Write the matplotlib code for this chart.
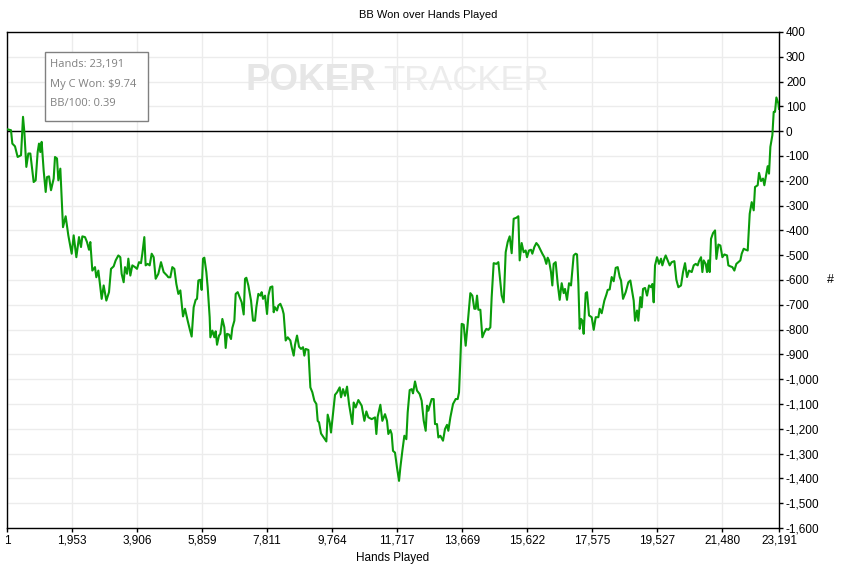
import matplotlib
matplotlib.use("Agg")
import matplotlib.pyplot as plt
from matplotlib.ticker import FuncFormatter

# Номер раздачи и выигрыш в BB
hands = [
    1, 121, 161, 241, 321, 422, 482, 522, 582, 642, 702, 802, 862, 922, 962,
    1002, 1042, 1102, 1163, 1203, 1263, 1323, 1403, 1443, 1503, 1543, 1603,
    1683, 1763, 1843, 1944, 2004, 2084, 2164, 2224, 2264, 2344, 2404, 2464,
    2504, 2564, 2644, 2684, 2745, 2845, 2905, 2985, 3065, 3125, 3205, 3265,
    3345, 3405, 3445, 3505, 3546, 3606, 3646, 3706, 3766, 3846, 3906, 3966,
    4026, 4066, 4126, 4166, 4227, 4287, 4347, 4407, 4467, 4547, 4627, 4707,
    4807, 4847, 4907, 4967, 5028, 5088, 5148, 5208, 5288, 5348, 5428, 5488,
    5548, 5608, 5668, 5709, 5749, 5809, 5849, 5889, 5929, 5989, 6029, 6089,
    6110, 6170, 6230, 6270, 6310, 6370, 6410, 6470, 6530, 6570, 6610, 6670,
    6730, 6770, 6831, 6871, 6931, 6991, 7051, 7111, 7151, 7191, 7251, 7331,
    7391, 7451, 7491, 7551, 7611, 7651, 7691, 7752, 7812, 7852, 7912, 7972,
    8012, 8052, 8112, 8152, 8212, 8272, 8312, 8372, 8433, 8513, 8553, 8613,
    8653, 8713, 8773, 8833, 8893, 8933, 8973, 9054, 9114, 9174, 9234, 9294,
    9334, 9374, 9434, 9514, 9594, 9634, 9694, 9734, 9794, 9854, 9915, 9995,
    10035, 10095, 10155, 10215, 10275, 10375, 10415, 10475, 10555, 10656,
    10736, 10796, 10856, 10956, 11056, 11096, 11136, 11216, 11276, 11356,
    11416, 11456, 11516, 11556, 11596, 11656, 11716, 11777, 11817, 11877,
    11937, 11997, 12037, 12097, 12157, 12197, 12257, 12317, 12397, 12457,
    12518, 12578, 12618, 12658, 12698, 12758, 12818, 12858, 12918, 12958,
    13018, 13098, 13158, 13218, 13258, 13319, 13399, 13479, 13539, 13579,
    13619, 13659, 13719, 13779, 13839, 13919, 13979, 14039, 14079, 14120,
    14160, 14220, 14280, 14340, 14400, 14460, 14520, 14560, 14620, 14700,
    14761, 14821, 14861, 14921, 14981, 15041, 15101, 15161, 15221, 15301,
    15361, 15401, 15461, 15521, 15581, 15621, 15681, 15741, 15782, 15842,
    15902, 15962, 16022, 16082, 16142, 16202, 16242, 16282, 16342, 16382,
    16422, 16482, 16543, 16603, 16663, 16723, 16763, 16823, 16883, 16943,
    17023, 17083, 17124, 17164, 17204, 17244, 17284, 17324, 17384, 17424,
    17485, 17565, 17625, 17685, 17765, 17805, 17865, 17945, 18005, 18045,
    18105, 18165, 18225, 18286, 18346, 18406, 18446, 18506, 18586, 18666,
    18726, 18826, 18866, 18926, 18966, 19026, 19066, 19107, 19167, 19227,
    19287, 19347, 19387, 19427, 19467, 19527, 19587, 19647, 19687, 19747,
    19787, 19847, 19908, 19968, 20048, 20108, 20168, 20248, 20308, 20368,
    20428, 20489, 20569, 20629, 20689, 20749, 20789, 20849, 20889, 20929,
    20989, 21029, 21069, 21109, 21149, 21209, 21270, 21310, 21370, 21430,
    21490, 21550, 21630, 21670, 21730, 21790, 21850, 21910, 21970, 22030,
    22071, 22131, 22191, 22251, 22311, 22371, 22431, 22471, 22551, 22591,
    22651, 22711, 22751, 22811, 22851, 22891, 22932, 22992, 23032, 23072,
    23112, 23172, 23191,
]
bb_won = [
    8, 4, -50, -61, -104, -97, 58, -3, -144, -90, -90, -205, -198, -84, -50,
    -84, -43, -158, -245, -185, -182, -238, -191, -104, -110, -198, -151,
    -387, -343, -420, -494, -420, -508, -427, -467, -424, -427, -447, -478,
    -447, -562, -548, -589, -562, -676, -622, -683, -649, -555, -545, -521,
    -501, -508, -575, -609, -548, -575, -514, -582, -541, -548, -555, -528,
    -532, -494, -427, -541, -535, -541, -494, -508, -595, -575, -528, -568,
    -582, -589, -589, -548, -555, -616, -656, -642, -747, -716, -764, -797,
    -828, -710, -680, -676, -602, -599, -640, -514, -510, -568, -629, -750,
    -831, -804, -831, -807, -861, -824, -817, -757, -791, -874, -817, -820,
    -838, -793, -764, -656, -649, -669, -690, -739, -595, -591, -622, -683,
    -764, -764, -710, -656, -663, -649, -676, -663, -737, -663, -629, -626,
    -730, -710, -723, -703, -696, -716, -737, -844, -831, -844, -871, -905,
    -861, -824, -869, -878, -871, -905, -878, -882, -1033, -1053, -1087, -1100,
    -1168, -1174, -1219, -1235, -1251, -1143, -1174, -1215, -1141, -1063, -1053, -1033,
    -1073, -1040, -1067, -1030, -1100, -1181, -1094, -1114, -1084, -1107,
    -1168, -1130, -1154, -1161, -1154, -1221, -1151, -1103, -1168, -1141,
    -1168, -1221, -1205, -1221, -1289, -1296, -1356, -1410, -1356, -1289,
    -1228, -1242, -1134, -1044, -1040, -1057, -1009, -1046, -1060, -1087,
    -1167, -1208, -1107, -1127, -1107, -1080, -1080, -1181, -1181, -1235,
    -1228, -1248, -1201, -1184, -1208, -1154, -1100, -1080, -1080, -1053,
    -925, -777, -780, -865, -777, -653, -663, -716, -716, -663,
    -720, -720, -831, -811, -797, -801, -791, -669, -532, -535,
    -528, -609, -663, -690, -488, -447, -424, -492, -353, -349,
    -343, -521, -451, -488, -481, -508, -481, -478, -494, -467,
    -451, -461, -478, -494, -508, -535, -510, -521, -568, -622,
    -535, -528, -615, -680, -613, -653, -636, -680, -613, -622,
    -501, -494, -497, -615, -797, -757, -764, -817, -653, -649,
    -743, -750, -801, -750, -750, -716, -734, -683, -659, -640,
    -638, -588, -605, -551, -548, -588, -602, -676, -649, -609,
    -602, -683, -764, -723, -764, -669, -710, -636, -632, -663,
    -622, -629, -616, -690, -541, -508, -535, -514, -541, -514,
    -501, -521, -541, -528, -524, -599, -629, -622, -568, -532,
    -588, -562, -568, -541, -535, -541, -524, -508, -568, -521,
    -535, -568, -521, -568, -434, -411, -400, -515, -457, -461,
    -508, -497, -501, -541, -545, -548, -562, -535, -528, -521,
    -494, -474, -478, -481, -333, -286, -319, -225, -218, -168,
    -201, -191, -218, -171, -141, -171, -63, -16, 78, 78,
    136, 112, 90,
]

x_ticks = [1, 1953, 3906, 5859, 7811, 9764, 11717, 13669, 15622, 17575,
           19527, 21480, 23191]
y_ticks = list(range(-1600, 401, 100))

info_lines = ["Hands: 23,191", "My C Won: $9.74", "BB/100: 0.39"]

tick_font = ["Liberation Sans", "DejaVu Sans"]

fig = plt.figure(figsize=(8.44, 5.68), dpi=100)
ax = fig.add_axes([7 / 844, 1 - 528 / 568, 772 / 844, 496 / 568])

ax.plot(hands, bb_won, color="#0a9c0a", linewidth=1.5, zorder=3)
ax.axhline(0, color="black", linewidth=1.0, zorder=2)

ax.set_xlim(1, 23191)
ax.set_ylim(-1600, 400)
ax.set_xticks(x_ticks)
ax.set_yticks(y_ticks)
ax.xaxis.set_major_formatter(FuncFormatter(lambda v, p: f"{int(round(v)):,}"))
ax.yaxis.set_major_formatter(FuncFormatter(lambda v, p: f"{int(round(v)):,}"))

ax.yaxis.tick_right()
ax.yaxis.set_label_position("right")
ax.tick_params(axis="both", direction="out", length=3, width=1, pad=2,
               labelsize=8.5, colors="black")
for lab in ax.get_xticklabels() + ax.get_yticklabels():
    lab.set_family(tick_font)

# Сетка
ax.grid(True, color="#ececec", linewidth=1.0, zorder=0)
ax.set_axisbelow(True)
for s in ax.spines.values():
    s.set_color("black")
    s.set_linewidth(1.0)

ax.set_xlabel("Hands Played", fontsize=8.5, family=tick_font, labelpad=4)
ax.set_ylabel("#", fontsize=9, family=tick_font, rotation=0, labelpad=8,
              va="center")

fig.text(428 / 844, 1 - 15 / 568, "BB Won over Hands Played", ha="center",
         va="center", fontsize=8, family=["Liberation Sans", "DejaVu Sans"])

# Водяной знак
fig.text(245 / 844, 1 - 81 / 568, "POKER", fontsize=26.5,
         fontweight="bold", color="#e6e6e6", family=tick_font, ha="left",
         va="center", zorder=1)
fig.text(383 / 844, 1 - 81 / 568, "TRACKER", fontsize=25,
         color="#ececec", family=tick_font, ha="left", va="center", zorder=1)

# Информационная рамка
box_y = [65, 84, 104]
fig.patches.append(plt.Rectangle((45 / 844, 1 - 121 / 568), 103 / 844,
                                 69 / 568, transform=fig.transFigure,
                                 facecolor="white", edgecolor="#808080",
                                 linewidth=1.0, zorder=5))
for t, yy in zip(info_lines, box_y):
    fig.text(50 / 844, 1 - yy / 568, t, ha="left", va="center", fontsize=8,
             color="#808080", family=["Open Sans", "DejaVu Sans"], zorder=6)

fig.savefig("out.png", dpi=100, facecolor="white")
